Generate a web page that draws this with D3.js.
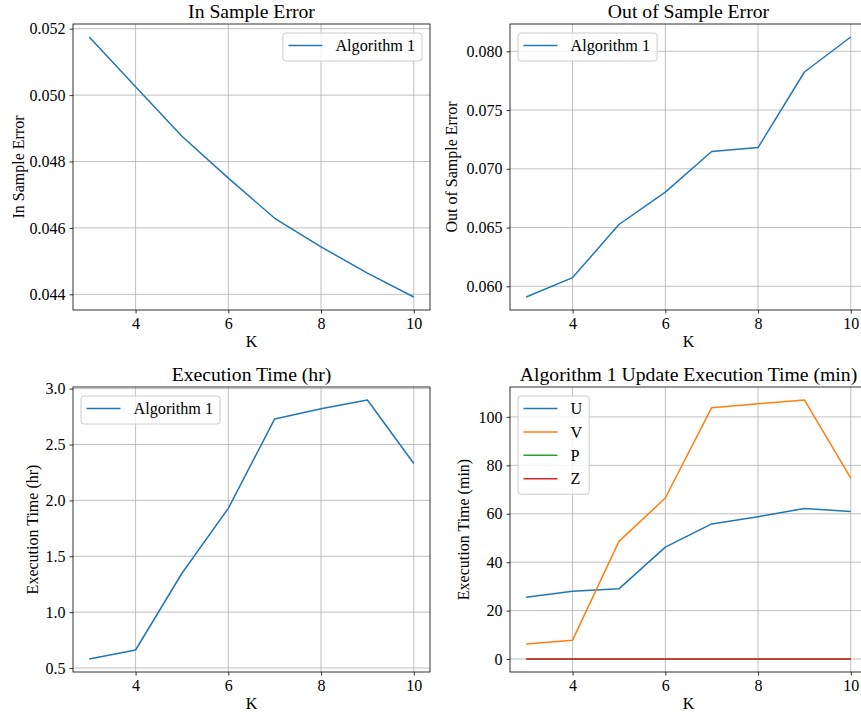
<!DOCTYPE html>
<html>
<head>
<meta charset="utf-8">
<script src="https://cdn.jsdelivr.net/npm/d3@7"></script>
<style>
  html, body { margin: 0; padding: 0; background: #fff; }
  svg { display: block; }
  text { font-family: "Liberation Serif", "Times New Roman", serif; fill: #000; }
</style>
</head>
<body>
<svg id="chart" width="861" height="713"></svg>
<script>
// ---- data ----
const K = [3, 4, 5, 6, 7, 8, 9, 10];
const inSampleError = [0.05175, 0.05025, 0.04876, 0.04750, 0.04629, 0.04543, 0.04464, 0.04392];
const outSampleError = [0.05909, 0.06074, 0.06526, 0.06802, 0.07147, 0.07181, 0.07824, 0.08122];
const execTimeHr = [0.580, 0.661, 1.348, 1.929, 2.729, 2.821, 2.899, 2.330];
const updU = [25.5, 28.0, 29.0, 46.2, 55.8, 58.8, 62.2, 60.9];
const updV = [6.2, 7.8, 48.6, 66.5, 103.8, 105.4, 107.0, 74.7];
const updP = [0, 0, 0, 0, 0, 0, 0, 0];
const updZ = [0, 0, 0, 0, 0, 0, 0, 0];

const xTicks = [4, 6, 8, 10];
const yTicks1 = [0.044, 0.046, 0.048, 0.050, 0.052];
const yTicks2 = [0.060, 0.065, 0.070, 0.075, 0.080];
const yTicks3 = [0.5, 1.0, 1.5, 2.0, 2.5, 3.0];
const yTicks4 = [0, 20, 40, 60, 80, 100];

const C = { blue: "#1f77b4", orange: "#ff7f0e", green: "#2ca02c", red: "#d62728" };

const svg = d3.select("#chart");

function panel(cfg) {
  const { left, right, top, bottom } = cfg.box;
  const g = svg.append("g");
  const x = d3.scaleLinear().domain([2.65, 10.35]).range([left, right]);
  const all = cfg.series.flatMap(s => s.values);
  const lo = d3.min(all), hi = d3.max(all), pad = (hi - lo) * 0.05;
  const y = d3.scaleLinear().domain([lo - pad, hi + pad]).range([bottom, top]);

  // clip
  const cid = "clip" + cfg.id;
  svg.append("clipPath").attr("id", cid).append("rect")
    .attr("x", left).attr("y", top).attr("width", right - left).attr("height", bottom - top);

  // grid
  const grid = g.append("g").attr("stroke", "#b0b0b0").attr("stroke-width", 0.8);
  xTicks.forEach(t => grid.append("line").attr("x1", x(t)).attr("x2", x(t)).attr("y1", top).attr("y2", bottom));
  cfg.yTicks.forEach(t => grid.append("line").attr("x1", left).attr("x2", right).attr("y1", y(t)).attr("y2", y(t)));

  // lines
  const line = d3.line().x((d, i) => x(K[i])).y(d => y(d));
  const lg = g.append("g").attr("clip-path", `url(#${cid})`);
  cfg.series.forEach(s => {
    lg.append("path").attr("d", line(s.values)).attr("fill", "none")
      .attr("stroke", s.color).attr("stroke-width", 1.5).attr("stroke-linejoin", "round");
  });

  // axes
  const xa = g.append("g").attr("transform", `translate(0,${bottom})`)
    .call(d3.axisBottom(x).tickValues(xTicks).tickSize(3.5).tickPadding(4).tickFormat(d3.format("d")));
  const ya = g.append("g").attr("transform", `translate(${left},0)`)
    .call(d3.axisLeft(y).tickValues(cfg.yTicks).tickSize(3.5).tickPadding(4).tickFormat(d3.format(cfg.fmt)));
  [xa, ya].forEach(a => {
    a.select(".domain").remove();
    a.selectAll("line").attr("stroke", "#000").attr("stroke-width", 0.8);
    a.selectAll("text").style("font-family", '"Liberation Serif", serif').style("font-size", "16px").attr("fill", "#000");
  });

  // spines
  g.append("rect").attr("x", left).attr("y", top).attr("width", right - left).attr("height", bottom - top)
    .attr("fill", "none").attr("stroke", "#000").attr("stroke-width", 0.8);

  // titles / labels
  g.append("text").attr("x", (left + right) / 2).attr("y", top - 6).attr("text-anchor", "middle")
    .style("font-size", "19.7px").text(cfg.title);
  g.append("text").attr("x", (left + right) / 2).attr("y", bottom + 37).attr("text-anchor", "middle")
    .style("font-size", "16px").text("K");
  g.append("text").attr("transform", `translate(${cfg.ylabelX},${(top + bottom) / 2}) rotate(-90)`)
    .attr("text-anchor", "middle").style("font-size", "16px").text(cfg.ylabel);

  // legend
  const n = cfg.series.length;
  const leg = g.append("g");
  const bx = leg.append("rect");
  const items = leg.append("g");
  let maxW = 0;
  cfg.series.forEach((s, i) => {
    const t = items.append("text").attr("x", 52.5).attr("y", 12.5 + i * 23.4).attr("dy", "0.35em")
      .style("font-size", "16.2px").text(s.name);
    maxW = Math.max(maxW, t.node().getComputedTextLength());
    items.append("line").attr("x1", 5.5).attr("x2", 39.5).attr("y1", 12.5 + i * 23.4).attr("y2", 12.5 + i * 23.4)
      .attr("stroke", s.color).attr("stroke-width", 1.5);
  });
  const w = 52.5 + maxW + 7, h = 12.5 + (n - 1) * 23.4 + 15.5;
  bx.attr("width", w).attr("height", h).attr("rx", 3).attr("fill", "#fff").attr("fill-opacity", 0.8)
    .attr("stroke", "#cccccc").attr("stroke-width", 1);
  const lx = cfg.legend === "right" ? right - 8 - w : left + 8;
  leg.attr("transform", `translate(${lx},${top + 9})`);
}

panel({ id: 1, box: { left: 73, right: 430, top: 24, bottom: 310 }, title: "In Sample Error",
  ylabel: "In Sample Error", ylabelX: 24, yTicks: yTicks1, fmt: ".3f", legend: "right",
  series: [{ name: "Algorithm 1", values: inSampleError, color: C.blue }] });
panel({ id: 2, box: { left: 510, right: 867, top: 24, bottom: 310 }, title: "Out of Sample Error",
  ylabel: "Out of Sample Error", ylabelX: 457, yTicks: yTicks2, fmt: ".3f", legend: "left",
  series: [{ name: "Algorithm 1", values: outSampleError, color: C.blue }] });
panel({ id: 3, box: { left: 73, right: 430, top: 387, bottom: 672 }, title: "Execution Time (hr)",
  ylabel: "Execution Time (hr)", ylabelX: 38, yTicks: yTicks3, fmt: ".1f", legend: "left",
  series: [{ name: "Algorithm 1", values: execTimeHr, color: C.blue }] });
panel({ id: 4, box: { left: 510, right: 867, top: 387, bottom: 672 }, title: "Algorithm 1 Update Execution Time (min)",
  ylabel: "Execution Time (min)", ylabelX: 469, yTicks: yTicks4, fmt: "d", legend: "left",
  series: [
    { name: "U", values: updU, color: C.blue },
    { name: "V", values: updV, color: C.orange },
    { name: "P", values: updP, color: C.green },
    { name: "Z", values: updZ, color: C.red }
  ] });
</script>
</body>
</html>
